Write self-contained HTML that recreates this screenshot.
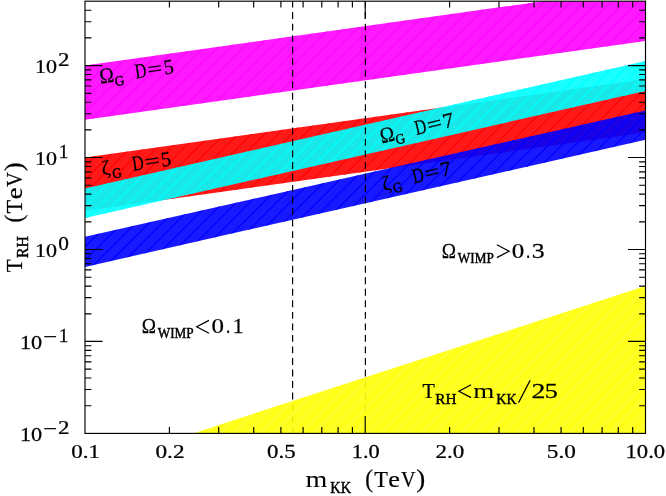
<!DOCTYPE html>
<html><head><meta charset="utf-8"><title>plot</title>
<style>
html,body{margin:0;padding:0;background:#fff;}
body{width:666px;height:496px;overflow:hidden;}
svg{display:block;}
text{font-family:"Liberation Serif",serif;fill:#000;stroke:#000;stroke-width:0.25px;}
</style></head><body>
<svg width="666" height="496" viewBox="0 0 666 496">
<defs>
<clipPath id="cp"><rect x="85.0" y="1.2" width="560.5" height="432.2"/></clipPath>
</defs>
<rect width="666" height="496" fill="#fff"/>
<g clip-path="url(#cp)">
<clipPath id="c1"><polygon points="85.0,65.6 645.5,-13.2 645.5,40.9 85.0,119.7"/></clipPath>
<polygon points="85.0,65.6 645.5,-13.2 645.5,40.9 85.0,119.7" fill="#ff00ff" fill-opacity="0.9"/>
<path d="M-31.1,121.7 L92.6,-2.0 M-17.7,121.7 L106.0,-2.0 M-4.3,121.7 L119.4,-2.0 M9.1,121.7 L132.8,-2.0 M22.5,121.7 L146.2,-2.0 M35.9,121.7 L159.6,-2.0 M49.3,121.7 L173.0,-2.0 M62.7,121.7 L186.4,-2.0 M76.1,121.7 L199.8,-2.0 M89.5,121.7 L213.2,-2.0 M102.9,121.7 L226.6,-2.0 M116.3,121.7 L240.0,-2.0 M129.7,121.7 L253.4,-2.0 M143.1,121.7 L266.8,-2.0 M156.5,121.7 L280.2,-2.0 M169.9,121.7 L293.6,-2.0 M183.3,121.7 L307.0,-2.0 M196.7,121.7 L320.4,-2.0 M210.1,121.7 L333.8,-2.0 M223.5,121.7 L347.2,-2.0 M236.9,121.7 L360.6,-2.0 M250.3,121.7 L374.0,-2.0 M263.7,121.7 L387.4,-2.0 M277.1,121.7 L400.8,-2.0 M290.5,121.7 L414.2,-2.0 M303.9,121.7 L427.6,-2.0 M317.3,121.7 L441.0,-2.0 M330.7,121.7 L454.4,-2.0 M344.1,121.7 L467.8,-2.0 M357.5,121.7 L481.2,-2.0 M370.9,121.7 L494.6,-2.0 M384.3,121.7 L508.0,-2.0 M397.7,121.7 L521.4,-2.0 M411.1,121.7 L534.8,-2.0 M424.5,121.7 L548.2,-2.0 M437.9,121.7 L561.6,-2.0 M451.3,121.7 L575.0,-2.0 M464.7,121.7 L588.4,-2.0 M478.1,121.7 L601.8,-2.0 M491.5,121.7 L615.2,-2.0 M504.9,121.7 L628.6,-2.0 M518.3,121.7 L642.0,-2.0 M531.7,121.7 L655.4,-2.0 M545.1,121.7 L668.8,-2.0 M558.5,121.7 L682.2,-2.0 M571.9,121.7 L695.6,-2.0 M585.3,121.7 L709.0,-2.0 M598.7,121.7 L722.4,-2.0 M612.1,121.7 L735.8,-2.0 M625.5,121.7 L749.2,-2.0 M638.9,121.7 L762.6,-2.0" fill="none" clip-path="url(#c1)" stroke="#ff00ff" stroke-width="1.3" stroke-opacity="0.75"/>
<clipPath id="c2"><polygon points="85.0,157.5 645.5,79.1 645.5,132.5 85.0,211.0"/></clipPath>
<polygon points="85.0,157.5 645.5,79.1 645.5,132.5 85.0,211.0" fill="#ff0000" fill-opacity="0.9"/>
<path d="M-42.0,213.0 L93.9,77.1 M-28.6,213.0 L107.3,77.1 M-15.2,213.0 L120.7,77.1 M-1.8,213.0 L134.1,77.1 M11.6,213.0 L147.5,77.1 M25.0,213.0 L160.9,77.1 M38.4,213.0 L174.3,77.1 M51.8,213.0 L187.7,77.1 M65.2,213.0 L201.1,77.1 M78.6,213.0 L214.5,77.1 M92.0,213.0 L227.9,77.1 M105.4,213.0 L241.3,77.1 M118.8,213.0 L254.7,77.1 M132.2,213.0 L268.1,77.1 M145.6,213.0 L281.5,77.1 M159.0,213.0 L294.9,77.1 M172.4,213.0 L308.3,77.1 M185.8,213.0 L321.7,77.1 M199.2,213.0 L335.1,77.1 M212.6,213.0 L348.5,77.1 M226.0,213.0 L361.9,77.1 M239.4,213.0 L375.3,77.1 M252.8,213.0 L388.7,77.1 M266.2,213.0 L402.1,77.1 M279.6,213.0 L415.5,77.1 M293.0,213.0 L428.9,77.1 M306.4,213.0 L442.3,77.1 M319.8,213.0 L455.7,77.1 M333.2,213.0 L469.1,77.1 M346.6,213.0 L482.5,77.1 M360.0,213.0 L495.9,77.1 M373.4,213.0 L509.3,77.1 M386.8,213.0 L522.7,77.1 M400.2,213.0 L536.1,77.1 M413.6,213.0 L549.5,77.1 M427.0,213.0 L562.9,77.1 M440.4,213.0 L576.3,77.1 M453.8,213.0 L589.7,77.1 M467.2,213.0 L603.1,77.1 M480.6,213.0 L616.5,77.1 M494.0,213.0 L629.9,77.1 M507.4,213.0 L643.3,77.1 M520.8,213.0 L656.7,77.1 M534.2,213.0 L670.1,77.1 M547.6,213.0 L683.5,77.1 M561.0,213.0 L696.9,77.1 M574.4,213.0 L710.3,77.1 M587.8,213.0 L723.7,77.1 M601.2,213.0 L737.1,77.1 M614.6,213.0 L750.5,77.1 M628.0,213.0 L763.9,77.1 M641.4,213.0 L777.3,77.1" fill="none" clip-path="url(#c2)" stroke="#ff0000" stroke-width="1.1" stroke-opacity="1.0"/>
<clipPath id="c3"><polygon points="85.0,188.5 645.5,60.9 645.5,90.9 85.0,218.1"/></clipPath>
<polygon points="85.0,188.5 645.5,60.9 645.5,90.9 85.0,218.1" fill="#00ffff" fill-opacity="0.9"/>
<path d="M-75.9,220.1 L85.3,58.9 M-62.5,220.1 L98.7,58.9 M-49.1,220.1 L112.1,58.9 M-35.7,220.1 L125.5,58.9 M-22.3,220.1 L138.9,58.9 M-8.9,220.1 L152.3,58.9 M4.5,220.1 L165.7,58.9 M17.9,220.1 L179.1,58.9 M31.3,220.1 L192.5,58.9 M44.7,220.1 L205.9,58.9 M58.1,220.1 L219.3,58.9 M71.5,220.1 L232.7,58.9 M84.9,220.1 L246.1,58.9 M98.3,220.1 L259.5,58.9 M111.7,220.1 L272.9,58.9 M125.1,220.1 L286.3,58.9 M138.5,220.1 L299.7,58.9 M151.9,220.1 L313.1,58.9 M165.3,220.1 L326.5,58.9 M178.7,220.1 L339.9,58.9 M192.1,220.1 L353.3,58.9 M205.5,220.1 L366.7,58.9 M218.9,220.1 L380.1,58.9 M232.3,220.1 L393.5,58.9 M245.7,220.1 L406.9,58.9 M259.1,220.1 L420.3,58.9 M272.5,220.1 L433.7,58.9 M285.9,220.1 L447.1,58.9 M299.3,220.1 L460.5,58.9 M312.7,220.1 L473.9,58.9 M326.1,220.1 L487.3,58.9 M339.5,220.1 L500.7,58.9 M352.9,220.1 L514.1,58.9 M366.3,220.1 L527.5,58.9 M379.7,220.1 L540.9,58.9 M393.1,220.1 L554.3,58.9 M406.5,220.1 L567.7,58.9 M419.9,220.1 L581.1,58.9 M433.3,220.1 L594.5,58.9 M446.7,220.1 L607.9,58.9 M460.1,220.1 L621.3,58.9 M473.5,220.1 L634.7,58.9 M486.9,220.1 L648.1,58.9 M500.3,220.1 L661.5,58.9 M513.7,220.1 L674.9,58.9 M527.1,220.1 L688.3,58.9 M540.5,220.1 L701.7,58.9 M553.9,220.1 L715.1,58.9 M567.3,220.1 L728.5,58.9 M580.7,220.1 L741.9,58.9 M594.1,220.1 L755.3,58.9 M607.5,220.1 L768.7,58.9 M620.9,220.1 L782.1,58.9 M634.3,220.1 L795.5,58.9" fill="none" clip-path="url(#c3)" stroke="#00ffff" stroke-width="1.3" stroke-opacity="1.0"/>
<clipPath id="c4"><polygon points="85.0,236.8 645.5,110.4 645.5,139.8 85.0,266.9"/></clipPath>
<polygon points="85.0,236.8 645.5,110.4 645.5,139.8 85.0,266.9" fill="#0000ff" fill-opacity="0.9"/>
<path d="M-71.1,268.9 L89.4,108.4 M-57.7,268.9 L102.8,108.4 M-44.3,268.9 L116.2,108.4 M-30.9,268.9 L129.6,108.4 M-17.5,268.9 L143.0,108.4 M-4.1,268.9 L156.4,108.4 M9.3,268.9 L169.8,108.4 M22.7,268.9 L183.2,108.4 M36.1,268.9 L196.6,108.4 M49.5,268.9 L210.0,108.4 M62.9,268.9 L223.4,108.4 M76.3,268.9 L236.8,108.4 M89.7,268.9 L250.2,108.4 M103.1,268.9 L263.6,108.4 M116.5,268.9 L277.0,108.4 M129.9,268.9 L290.4,108.4 M143.3,268.9 L303.8,108.4 M156.7,268.9 L317.2,108.4 M170.1,268.9 L330.6,108.4 M183.5,268.9 L344.0,108.4 M196.9,268.9 L357.4,108.4 M210.3,268.9 L370.8,108.4 M223.7,268.9 L384.2,108.4 M237.1,268.9 L397.6,108.4 M250.5,268.9 L411.0,108.4 M263.9,268.9 L424.4,108.4 M277.3,268.9 L437.8,108.4 M290.7,268.9 L451.2,108.4 M304.1,268.9 L464.6,108.4 M317.5,268.9 L478.0,108.4 M330.9,268.9 L491.4,108.4 M344.3,268.9 L504.8,108.4 M357.7,268.9 L518.2,108.4 M371.1,268.9 L531.6,108.4 M384.5,268.9 L545.0,108.4 M397.9,268.9 L558.4,108.4 M411.3,268.9 L571.8,108.4 M424.7,268.9 L585.2,108.4 M438.1,268.9 L598.6,108.4 M451.5,268.9 L612.0,108.4 M464.9,268.9 L625.4,108.4 M478.3,268.9 L638.8,108.4 M491.7,268.9 L652.2,108.4 M505.1,268.9 L665.6,108.4 M518.5,268.9 L679.0,108.4 M531.9,268.9 L692.4,108.4 M545.3,268.9 L705.8,108.4 M558.7,268.9 L719.2,108.4 M572.1,268.9 L732.6,108.4 M585.5,268.9 L746.0,108.4 M598.9,268.9 L759.4,108.4 M612.3,268.9 L772.8,108.4 M625.7,268.9 L786.2,108.4 M639.1,268.9 L799.6,108.4" fill="none" clip-path="url(#c4)" stroke="#0000ff" stroke-width="1.2" stroke-opacity="1.0"/>
<line x1="292.6" y1="0.57" x2="292.6" y2="433.4" stroke="#000" stroke-width="1.2" stroke-dasharray="6.9 4.63"/>
<line x1="365.4" y1="0.57" x2="365.4" y2="433.4" stroke="#000" stroke-width="1.2" stroke-dasharray="6.9 4.63"/>
<clipPath id="c5"><polygon points="193.1,433.4 645.5,286.0 645.5,433.4"/></clipPath>
<polygon points="193.1,433.4 645.5,286.0 645.5,433.4" fill="#ffff00" fill-opacity="0.9"/>
<path d="M43.8,435.4 L195.2,284.0 M57.2,435.4 L208.6,284.0 M70.6,435.4 L222.0,284.0 M84.0,435.4 L235.4,284.0 M97.4,435.4 L248.8,284.0 M110.8,435.4 L262.2,284.0 M124.2,435.4 L275.6,284.0 M137.6,435.4 L289.0,284.0 M151.0,435.4 L302.4,284.0 M164.4,435.4 L315.8,284.0 M177.8,435.4 L329.2,284.0 M191.2,435.4 L342.6,284.0 M204.6,435.4 L356.0,284.0 M218.0,435.4 L369.4,284.0 M231.4,435.4 L382.8,284.0 M244.8,435.4 L396.2,284.0 M258.2,435.4 L409.6,284.0 M271.6,435.4 L423.0,284.0 M285.0,435.4 L436.4,284.0 M298.4,435.4 L449.8,284.0 M311.8,435.4 L463.2,284.0 M325.2,435.4 L476.6,284.0 M338.6,435.4 L490.0,284.0 M352.0,435.4 L503.4,284.0 M365.4,435.4 L516.8,284.0 M378.8,435.4 L530.2,284.0 M392.2,435.4 L543.6,284.0 M405.6,435.4 L557.0,284.0 M419.0,435.4 L570.4,284.0 M432.4,435.4 L583.8,284.0 M445.8,435.4 L597.2,284.0 M459.2,435.4 L610.6,284.0 M472.6,435.4 L624.0,284.0 M486.0,435.4 L637.4,284.0 M499.4,435.4 L650.8,284.0 M512.8,435.4 L664.2,284.0 M526.2,435.4 L677.6,284.0 M539.6,435.4 L691.0,284.0 M553.0,435.4 L704.4,284.0 M566.4,435.4 L717.8,284.0 M579.8,435.4 L731.2,284.0 M593.2,435.4 L744.6,284.0 M606.6,435.4 L758.0,284.0 M620.0,435.4 L771.4,284.0 M633.4,435.4 L784.8,284.0" fill="none" clip-path="url(#c5)" stroke="#ffff77" stroke-width="3.0" stroke-opacity="0.22"/>
</g>
<rect x="85.0" y="1.2" width="560.5" height="432.2" fill="none" stroke="#000" stroke-width="1.15"/>
<path d="M169.4,433.4 v-6.4 M169.4,1.2 v6.4 M218.7,433.4 v-6.4 M218.7,1.2 v6.4 M253.7,433.4 v-6.4 M253.7,1.2 v6.4 M280.9,433.4 v-6.4 M280.9,1.2 v6.4 M303.1,433.4 v-6.4 M303.1,1.2 v6.4 M321.8,433.4 v-6.4 M321.8,1.2 v6.4 M338.1,433.4 v-6.4 M338.1,1.2 v6.4 M352.4,433.4 v-6.4 M352.4,1.2 v6.4 M365.2,433.4 v-17.5 M365.2,1.2 v17.5 M449.6,433.4 v-6.4 M449.6,1.2 v6.4 M499.0,433.4 v-6.4 M499.0,1.2 v6.4 M534.0,433.4 v-6.4 M534.0,1.2 v6.4 M561.1,433.4 v-6.4 M561.1,1.2 v6.4 M583.3,433.4 v-6.4 M583.3,1.2 v6.4 M602.1,433.4 v-6.4 M602.1,1.2 v6.4 M618.3,433.4 v-6.4 M618.3,1.2 v6.4 M632.7,433.4 v-6.4 M632.7,1.2 v6.4 M85.0,405.7 h6.4 M645.5,405.7 h-6.4 M85.0,389.5 h6.4 M645.5,389.5 h-6.4 M85.0,378.0 h6.4 M645.5,378.0 h-6.4 M85.0,369.1 h6.4 M645.5,369.1 h-6.4 M85.0,361.8 h6.4 M645.5,361.8 h-6.4 M85.0,355.7 h6.4 M645.5,355.7 h-6.4 M85.0,350.4 h6.4 M645.5,350.4 h-6.4 M85.0,345.7 h6.4 M645.5,345.7 h-6.4 M85.0,341.4 h17.5 M645.5,341.4 h-17.5 M85.0,313.8 h6.4 M645.5,313.8 h-6.4 M85.0,297.6 h6.4 M645.5,297.6 h-6.4 M85.0,286.1 h6.4 M645.5,286.1 h-6.4 M85.0,277.2 h6.4 M645.5,277.2 h-6.4 M85.0,269.9 h6.4 M645.5,269.9 h-6.4 M85.0,263.7 h6.4 M645.5,263.7 h-6.4 M85.0,258.4 h6.4 M645.5,258.4 h-6.4 M85.0,253.7 h6.4 M645.5,253.7 h-6.4 M85.0,249.5 h17.5 M645.5,249.5 h-17.5 M85.0,221.8 h6.4 M645.5,221.8 h-6.4 M85.0,205.6 h6.4 M645.5,205.6 h-6.4 M85.0,194.1 h6.4 M645.5,194.1 h-6.4 M85.0,185.2 h6.4 M645.5,185.2 h-6.4 M85.0,177.9 h6.4 M645.5,177.9 h-6.4 M85.0,171.8 h6.4 M645.5,171.8 h-6.4 M85.0,166.5 h6.4 M645.5,166.5 h-6.4 M85.0,161.8 h6.4 M645.5,161.8 h-6.4 M85.0,157.5 h17.5 M645.5,157.5 h-17.5 M85.0,129.9 h6.4 M645.5,129.9 h-6.4 M85.0,113.7 h6.4 M645.5,113.7 h-6.4 M85.0,102.2 h6.4 M645.5,102.2 h-6.4 M85.0,93.3 h6.4 M645.5,93.3 h-6.4 M85.0,86.0 h6.4 M645.5,86.0 h-6.4 M85.0,79.8 h6.4 M645.5,79.8 h-6.4 M85.0,74.5 h6.4 M645.5,74.5 h-6.4 M85.0,69.8 h6.4 M645.5,69.8 h-6.4 M85.0,65.6 h17.5 M645.5,65.6 h-17.5 M85.0,37.9 h6.4 M645.5,37.9 h-6.4 M85.0,21.7 h6.4 M645.5,21.7 h-6.4 M85.0,10.2 h6.4 M645.5,10.2 h-6.4" stroke="#000" stroke-width="1.15" fill="none"/>
<g opacity="0.999">
<g transform="translate(0.0,65.6) rotate(0.00)">
<text transform="translate(35.04,7.60) scale(1.135,1.000)" font-size="19.4">10</text>
<text transform="translate(57.88,0.20) scale(1.182,1.000)" font-size="19.4">2</text>
</g>
<g transform="translate(0.0,157.5) rotate(0.00)">
<text transform="translate(35.04,7.60) scale(1.135,1.000)" font-size="19.4">10</text>
<text transform="translate(58.74,0.20) scale(1.002,1.000)" font-size="19.4">1</text>
</g>
<g transform="translate(0.0,249.5) rotate(0.00)">
<text transform="translate(35.04,7.60) scale(1.135,1.000)" font-size="19.4">10</text>
<text transform="translate(58.16,0.20) scale(1.101,1.000)" font-size="19.4">0</text>
</g>
<g transform="translate(0.0,341.4) rotate(0.00)">
<text transform="translate(19.92,7.60) scale(1.147,1.000)" font-size="19.4">10</text>
<text transform="translate(43.22,1.20) scale(1.267,1.000)" font-size="19.4">−</text>
<text transform="translate(58.64,0.20) scale(1.002,1.000)" font-size="19.4">1</text>
</g>
<g transform="translate(0.0,433.4) rotate(0.00)">
<text transform="translate(19.92,7.60) scale(1.147,1.000)" font-size="19.4">10</text>
<text transform="translate(43.22,1.20) scale(1.267,1.000)" font-size="19.4">−</text>
<text transform="translate(57.88,0.20) scale(1.182,1.000)" font-size="19.4">2</text>
</g>
<g transform="translate(0.0,457.8) rotate(0.00)">
<text transform="translate(71.36,0.00) scale(1.211,1.000)" font-size="19">0.1</text>
</g>
<g transform="translate(0.0,457.8) rotate(0.00)">
<text transform="translate(155.47,0.00) scale(1.224,1.000)" font-size="19">0.2</text>
</g>
<g transform="translate(0.0,457.8) rotate(0.00)">
<text transform="translate(267.00,0.00) scale(1.203,1.000)" font-size="19">0.5</text>
</g>
<g transform="translate(0.0,457.8) rotate(0.00)">
<text transform="translate(351.77,0.00) scale(1.173,1.000)" font-size="19">1.0</text>
</g>
<g transform="translate(0.0,457.8) rotate(0.00)">
<text transform="translate(435.49,0.00) scale(1.213,1.000)" font-size="19">2.0</text>
</g>
<g transform="translate(0.0,457.8) rotate(0.00)">
<text transform="translate(546.77,0.00) scale(1.224,1.000)" font-size="19">5.0</text>
</g>
<g transform="translate(0.0,457.8) rotate(0.00)">
<text transform="translate(625.49,0.00) scale(1.194,1.000)" font-size="19">10.0</text>
</g>
<g transform="translate(306.1,487.1) rotate(0.00)">
<text transform="translate(-0.56,0.00) scale(1.172,1.000)" font-size="24" style="stroke-width:0">m</text>
<text transform="translate(24.21,6.20) scale(0.901,1.000)" font-size="16" style="stroke-width:0.45px">KK</text>
<text transform="translate(59.07,0.00) scale(0.933,1.000)" font-size="25">(</text>
<text transform="translate(68.08,0.00) scale(0.932,1.000)" font-size="24">T</text>
<text transform="translate(82.21,0.00) scale(1.096,1.000)" font-size="24">e</text>
<text transform="translate(94.80,0.00) scale(0.839,1.000)" font-size="24">V</text>
<text transform="translate(110.19,0.00) scale(1.077,1.000)" font-size="25">)</text>
</g>
<g transform="translate(21.6,272.0) rotate(-90.00)">
<text transform="translate(-0.21,0.00) scale(0.883,1.000)" font-size="24">T</text>
<text transform="translate(14.09,6.20) scale(0.984,1.000)" font-size="16" style="stroke-width:0.45px">RH</text>
<text transform="translate(49.57,0.00) scale(0.933,1.000)" font-size="25">(</text>
<text transform="translate(58.58,0.00) scale(0.932,1.000)" font-size="24">T</text>
<text transform="translate(72.71,0.00) scale(1.096,1.000)" font-size="24">e</text>
<text transform="translate(85.30,0.00) scale(0.839,1.000)" font-size="24">V</text>
<text transform="translate(100.69,0.00) scale(1.077,1.000)" font-size="25">)</text>
</g>
<g transform="translate(100.8,83.6) rotate(-8.20)">
<text transform="translate(-0.18,0.00) scale(0.930,1.039)" font-size="21">Ω</text>
<text transform="translate(14.18,4.50) scale(0.931,1.000)" font-size="14" style="stroke-width:0.45px">G</text>
<text transform="translate(35.48,0.00) scale(0.753,1.000)" font-size="21">D</text>
<text transform="translate(48.04,0.00) scale(1.260,1.000)" font-size="21">=</text>
<text transform="translate(64.51,0.00) scale(0.941,1.000)" font-size="21">5</text>
</g>
<g transform="translate(98.2,175.9) rotate(-8.20)">
<text transform="translate(4.38,0.00) scale(1.003,1.000)" font-size="20.5">ζ</text>
<text transform="translate(14.18,4.50) scale(0.931,1.000)" font-size="14" style="stroke-width:0.45px">G</text>
<text transform="translate(35.48,0.00) scale(0.753,1.000)" font-size="21">D</text>
<text transform="translate(48.04,0.00) scale(1.260,1.000)" font-size="21">=</text>
<text transform="translate(64.51,0.00) scale(0.941,1.000)" font-size="21">5</text>
</g>
<g transform="translate(382.0,143.4) rotate(-13.50)">
<text transform="translate(-0.18,0.00) scale(0.930,1.039)" font-size="21">Ω</text>
<text transform="translate(14.18,4.50) scale(0.931,1.000)" font-size="14" style="stroke-width:0.45px">G</text>
<text transform="translate(35.48,0.00) scale(0.753,1.000)" font-size="21">D</text>
<text transform="translate(48.04,0.00) scale(1.260,1.000)" font-size="21">=</text>
<text transform="translate(64.19,0.00) scale(1.043,1.000)" font-size="21">7</text>
</g>
<g transform="translate(379.5,191.9) rotate(-13.50)">
<text transform="translate(4.38,0.00) scale(1.003,1.000)" font-size="20.5">ζ</text>
<text transform="translate(14.18,4.50) scale(0.931,1.000)" font-size="14" style="stroke-width:0.45px">G</text>
<text transform="translate(35.48,0.00) scale(0.753,1.000)" font-size="21">D</text>
<text transform="translate(48.04,0.00) scale(1.260,1.000)" font-size="21">=</text>
<text transform="translate(64.19,0.00) scale(1.043,1.000)" font-size="21">7</text>
</g>
<g transform="translate(442.8,257.6) rotate(0.00)">
<text transform="translate(-0.96,0.00) scale(0.894,1.022)" font-size="21.5">Ω</text>
<text transform="translate(15.00,5.20) scale(0.911,1.000)" font-size="14.5" style="stroke-width:0.45px">WIMP</text>
<polyline points="54.0,-12.8 66.3,-6.4 54.0,0.0" fill="none" stroke="#000" stroke-width="1.25" stroke-linejoin="miter"/>
<text transform="translate(68.85,0.00) scale(1.163,1.000)" font-size="21.5">0</text>
<text transform="translate(83.28,0.00) scale(0.787,1.000)" font-size="21.5">.</text>
<text transform="translate(88.97,0.00) scale(1.201,1.000)" font-size="21.5">3</text>
</g>
<g transform="translate(142.7,333.2) rotate(0.00)">
<text transform="translate(-0.96,0.00) scale(0.894,1.022)" font-size="21.5">Ω</text>
<text transform="translate(15.00,5.20) scale(0.911,1.000)" font-size="14.5" style="stroke-width:0.45px">WIMP</text>
<polyline points="66.3,-12.8 54.0,-6.4 66.3,0.0" fill="none" stroke="#000" stroke-width="1.25" stroke-linejoin="miter"/>
<text transform="translate(68.85,0.00) scale(1.163,1.000)" font-size="21.5">0</text>
<text transform="translate(83.28,0.00) scale(0.787,1.000)" font-size="21.5">.</text>
<text transform="translate(89.97,0.00) scale(1.008,1.000)" font-size="21.5">1</text>
</g>
<g transform="translate(422.8,397.6) rotate(0.00)">
<text transform="translate(-0.20,0.00) scale(0.938,1.000)" font-size="21.5">T</text>
<text transform="translate(12.50,6.00) scale(1.050,1.000)" font-size="14.5" style="stroke-width:0.45px">RH</text>
<polyline points="48.3,-12.8 36.1,-6.4 48.3,0.0" fill="none" stroke="#000" stroke-width="1.25" stroke-linejoin="miter"/>
<text transform="translate(50.56,0.00) scale(1.265,1.000)" font-size="21.5" style="stroke-width:0">m</text>
<text transform="translate(73.52,6.00) scale(0.970,1.000)" font-size="14.5" style="stroke-width:0.45px">KK</text>
<line x1="95.7" y1="5.2" x2="107.4" y2="-17.4" stroke="#000" stroke-width="1.3"/>
<text transform="translate(108.79,0.00) scale(1.293,1.000)" font-size="21.5">2</text>
<text transform="translate(121.99,0.00) scale(1.218,1.000)" font-size="21.5">5</text>
</g>
</g>
</svg></body></html>
